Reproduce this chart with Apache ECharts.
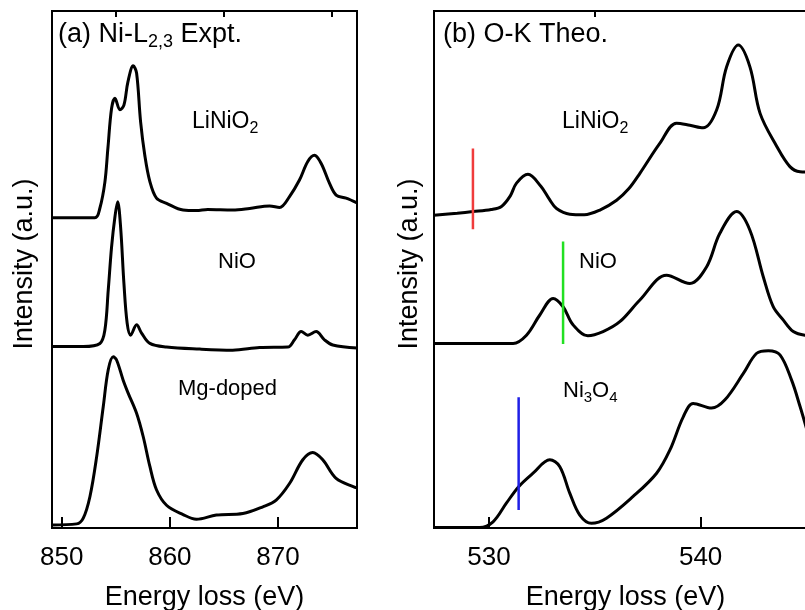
<!DOCTYPE html>
<html>
<head>
<meta charset="utf-8">
<script src="https://cdn.jsdelivr.net/npm/echarts@6/dist/echarts.min.js"></script>
<style>
  html, body { margin: 0; padding: 0; background: #fff; }
  #chart { width: 805px; height: 610px; }
</style>
</head>
<body>
<div id="chart"></div>
<script>
// (a) Ni-L2,3 experiment: energy loss (eV) and stacked intensity (a.u.)
const niLiNiO2E = [849.1, 853.07, 853.53, 853.99, 854.27, 854.61, 854.92, 855.38, 855.75, 856.12, 856.61, 856.92, 857.29, 857.68, 858.15, 858.76, 859.69, 861.22, 862.45, 863.5, 865.8, 867.37, 869.22, 870.14, 871.06, 871.98, 872.75, 873.37, 873.99, 874.75, 875.37, 876.29, 877.3];
const niLiNiO2I = [60.0, 60.0, 61.9, 66.9, 73.5, 81.2, 83.1, 80.9, 81.8, 86.3, 89.4, 88.0, 78.6, 72.1, 67.0, 63.8, 62.8, 61.5, 61.4, 61.6, 61.5, 61.8, 62.3, 62.0, 64.1, 67.3, 70.9, 72.1, 70.5, 66.7, 64.4, 63.8, 62.9];

const niNiOE = [849.1, 851.99, 853.53, 853.99, 854.30, 854.61, 854.92, 855.17, 855.44, 855.75, 856.05, 856.37, 856.92, 857.38, 858.15, 859.69, 862.76, 865.8, 868.29, 870.90, 871.52, 872.14, 872.75, 873.52, 874.29, 875.06, 877.3];
const niNiOI = [35.1, 35.1, 35.7, 38.3, 46.0, 54.4, 60.2, 63.1, 58.3, 47.3, 39.6, 37.3, 39.3, 37.7, 35.7, 35.0, 34.6, 34.4, 34.9, 35.0, 36.4, 38.0, 37.3, 38.0, 36.4, 35.4, 34.8];

const niMgE = [849.1, 851.38, 851.99, 852.61, 853.23, 853.84, 854.30, 854.76, 855.07, 855.68, 856.14, 856.92, 857.53, 858.15, 858.76, 859.69, 861.22, 862.45, 864.30, 866.75, 868.60, 869.83, 871.06, 872.29, 873.21, 874.13, 875.37, 877.06, 877.3];
const niMgI = [0.6, 0.8, 1.9, 6.1, 13.8, 23.5, 30.6, 33.1, 32.5, 28.6, 26.1, 22.2, 17.7, 11.9, 7.4, 4.4, 2.6, 1.7, 2.5, 2.8, 4.1, 5.4, 8.6, 13.2, 14.6, 13.2, 9.6, 7.9, 7.8];

// (b) O-K theory
const okLiNiO2E = [527.4, 528.5, 529.24, 530.1, 530.59, 531.0, 531.3, 531.84, 532.45, 532.85, 533.19, 533.82, 534.5, 535.24, 536.03, 536.6, 537.13, 538.07, 538.86, 539.49, 540.12, 540.76, 541.23, 541.78, 542.33, 542.81, 543.60, 544.22, 544.70, 545.5];
const okLiNiO2I = [60.5, 60.9, 61.2, 61.6, 62.2, 64.2, 66.7, 68.4, 66.1, 63.6, 61.8, 60.7, 60.6, 61.5, 63.4, 65.6, 68.6, 74.4, 78.3, 77.9, 77.4, 80.9, 89.2, 93.4, 89.2, 80.2, 73.8, 69.9, 68.9, 68.8];

const okNiOE = [527.4, 531.14, 531.77, 532.40, 533.03, 533.50, 533.97, 534.67, 535.39, 536.18, 537.13, 538.39, 539.49, 540.28, 540.91, 541.70, 542.33, 542.96, 543.43, 543.91, 544.38, 544.93, 545.5];
const okNiOI = [35.7, 35.7, 37.3, 41.2, 44.4, 42.8, 39.3, 37.2, 38.0, 39.9, 44.1, 48.9, 47.3, 50.5, 57.0, 61.2, 57.6, 48.6, 42.8, 40.2, 38.0, 37.3, 37.2];

const okNi3O4E = [527.4, 529.56, 530.19, 530.82, 531.40, 532.08, 532.87, 533.34, 533.82, 534.29, 534.84, 535.55, 536.81, 537.92, 538.55, 539.18, 539.65, 540.52, 541.15, 542.02, 542.65, 543.20, 543.75, 544.30, 544.70, 544.93, 545.5];
const okNi3O4I = [0.1, 0.1, 1.2, 4.8, 8.0, 10.6, 13.2, 11.9, 6.7, 2.5, 0.9, 1.9, 6.1, 10.6, 15.1, 21.5, 24.1, 23.2, 24.8, 29.9, 33.8, 34.3, 33.5, 28.6, 23.5, 20.3, 12.0];

// onset markers in (b)
const markRedE = [529.24, 529.24], markRedI = [57.8, 73.4];
const markGreenE = [533.5, 533.5], markGreenI = [35.6, 55.4];
const markBlueE = [531.4, 531.4], markBlueI = [3.5, 25.3];

// axis ticks
const leftMajor = [850, 860, 870];
const leftMinor = [855, 865, 875];
const rightMajor = [530, 540];
const rightMinor = [535, 545];

const FONT = "'Liberation Sans', Arial, sans-serif";

function zip(xs, ys) {
  return xs.map((x, i) => [x, ys[i]]);
}

function curve(name, idx, xs, ys) {
  return {
    name: name,
    type: 'line',
    xAxisIndex: idx * 2,
    yAxisIndex: idx,
    data: zip(xs, ys),
    showSymbol: false,
    smooth: 0.35,
    lineStyle: { color: '#000', width: 3 },
    z: 3,
  };
}

function marker(xs, ys, color) {
  return {
    type: 'line',
    xAxisIndex: 2,
    yAxisIndex: 1,
    data: zip(xs, ys),
    showSymbol: false,
    lineStyle: { color: color, width: 2.5 },
    z: 5,
  };
}

function mainX(grid, min, max, major) {
  return {
    gridIndex: grid,
    type: 'value',
    min: min,
    max: max,
    name: 'Energy loss (eV)',
    nameLocation: 'middle',
    nameGap: 56,
    nameTextStyle: { fontSize: 27, fontFamily: FONT, color: '#000' },
    axisLine: { show: true, lineStyle: { color: '#000', width: 2 } },
    axisTick: { show: true, inside: true, length: 11, customValues: major, lineStyle: { color: '#000', width: 2 } },
    axisLabel: { show: true, customValues: major, fontSize: 26, fontFamily: FONT, color: '#000', margin: 17 },
    splitLine: { show: false },
  };
}

function minorX(grid, min, max, minor) {
  return {
    gridIndex: grid,
    type: 'value',
    min: min,
    max: max,
    axisLine: { show: false },
    axisTick: { show: true, inside: true, length: 6, customValues: minor, lineStyle: { color: '#000', width: 2 } },
    axisLabel: { show: false },
    splitLine: { show: false },
  };
}

function label(text, x, y, size) {
  return {
    type: 'text',
    x: x,
    y: y,
    z: 10,
    style: {
      text: text,
      fontSize: size,
      fontFamily: FONT,
      fill: '#000',
      align: 'left',
      verticalAlign: 'middle',
      lineHeight: size + 6,
      rich: {
        s: { fontSize: Math.round(size * 0.68), fontFamily: FONT, fill: '#000', verticalAlign: 'bottom' },
      },
    },
  };
}

function yName(x) {
  return {
    type: 'text',
    x: x,
    y: 264,
    rotation: Math.PI / 2,
    z: 10,
    style: {
      text: 'Intensity (a.u.)',
      fontSize: 27,
      fontFamily: FONT,
      fill: '#000',
      align: 'center',
      verticalAlign: 'middle',
    },
  };
}

const chart = echarts.init(document.getElementById('chart'));
chart.setOption({
  backgroundColor: '#fff',
  animation: false,
  grid: [
    { left: 52, top: 11, width: 305, height: 517, show: true, borderColor: '#000', borderWidth: 2, containLabel: false, outerBoundsMode: 'none' },
    { left: 434, top: 11, width: 383, height: 517, show: true, borderColor: '#000', borderWidth: 2, containLabel: false, outerBoundsMode: 'none' },
  ],
  xAxis: [
    mainX(0, 849.1, 877.3, leftMajor),
    minorX(0, 849.1, 877.3, leftMinor),
    mainX(1, 527.4, 545.5, rightMajor),
    minorX(1, 527.4, 545.5, rightMinor),
  ],
  yAxis: [
    { gridIndex: 0, type: 'value', min: 0, max: 100, show: false },
    { gridIndex: 1, type: 'value', min: 0, max: 100, show: false },
  ],
  series: [
    curve('LiNiO2', 0, niLiNiO2E, niLiNiO2I),
    curve('NiO', 0, niNiOE, niNiOI),
    curve('Mg-doped', 0, niMgE, niMgI),
    curve('LiNiO2 O-K', 1, okLiNiO2E, okLiNiO2I),
    curve('NiO O-K', 1, okNiOE, okNiOI),
    curve('Ni3O4 O-K', 1, okNi3O4E, okNi3O4I),
    marker(markRedE, markRedI, '#f03c3c'),
    marker(markGreenE, markGreenI, '#22e022'),
    marker(markBlueE, markBlueI, '#1f1fe6'),
  ],
  graphic: [
    label('(a) Ni-L{s|2,3} Expt.', 58, 35, 27),
    label('LiNiO{s|2}', 192, 122, 23),
    label('NiO', 218, 262, 22),
    label('Mg-doped', 178, 389, 22),
    label('(b) O-K Theo.', 443, 35, 27),
    label('LiNiO{s|2}', 562, 122, 23),
    label('NiO', 579, 262, 22),
    label('Ni{s|3}O{s|4}', 563, 391, 22),
    yName(25),
    yName(410),
  ],
});
</script>
</body>
</html>
